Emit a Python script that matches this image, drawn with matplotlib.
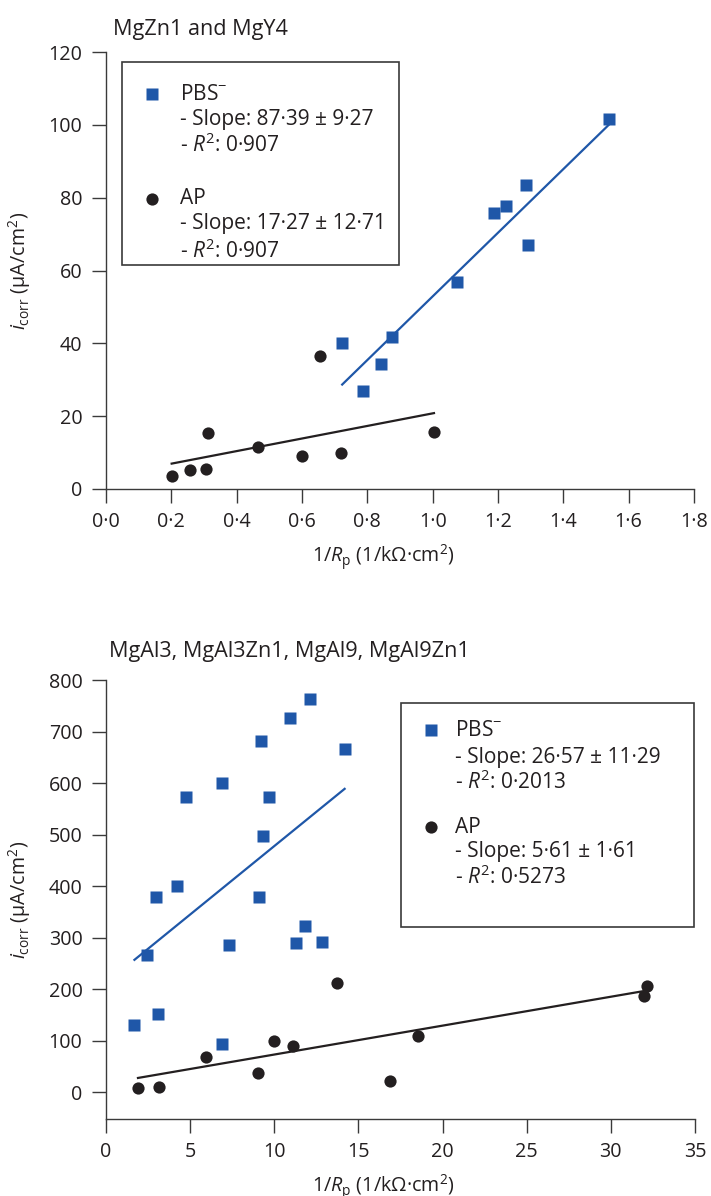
import numpy as np
import matplotlib
matplotlib.use("Agg")
import matplotlib.pyplot as plt
from matplotlib.patches import Rectangle

plt.rcParams['font.family'] = ['Open Sans', 'DejaVu Sans']
plt.rcParams['mathtext.fontset'] = 'custom'
plt.rcParams['mathtext.rm'] = 'Open Sans'
plt.rcParams['mathtext.it'] = 'Open Sans:italic'

BLUE = '#1f57a8'
DARK = '#231f20'

# --- top panel: MgZn1 and MgY4
top_pbs_x = [1.539, 1.286, 1.224, 1.188, 1.292, 1.074, 0.875, 0.723, 0.842, 0.787]
top_pbs_y = [101.6, 83.4, 77.7, 75.7, 66.9, 56.8, 41.8, 40.0, 34.2, 26.8]
top_ap_x = [0.656, 1.004, 0.313, 0.464, 0.718, 0.599, 0.307, 0.257, 0.201]
top_ap_y = [36.6, 15.6, 15.3, 11.4, 10.0, 9.0, 5.5, 5.3, 3.6]
top_pbs_fit = (87.39, -34.5)   # slope, intercept
top_ap_fit = (17.27, 3.5)
top_xticks = [0.0, 0.2, 0.4, 0.6, 0.8, 1.0, 1.2, 1.4, 1.6, 1.8]
top_yticks = [0, 20, 40, 60, 80, 100, 120]

# --- bottom panel: MgAl3, MgAl3Zn1, MgAl9, MgAl9Zn1
bot_pbs_x = [12.12, 10.96, 9.24, 14.18, 6.87, 4.78, 9.66, 9.35, 4.20, 2.99,
             9.07, 11.82, 7.29, 11.28, 12.81, 2.46, 3.11, 1.69, 6.87]
bot_pbs_y = [763, 727, 682, 667, 600, 572, 572, 498, 400, 378,
             378, 323, 286, 290, 292, 267, 151, 131, 94]
bot_ap_x = [32.13, 31.99, 13.70, 18.55, 9.98, 11.12, 5.94, 9.01, 16.88, 3.13, 1.90]
bot_ap_y = [206, 186, 212, 110, 99, 89, 68, 37, 22, 11, 8]
bot_pbs_fit = (26.57, 212.0)
bot_ap_fit = (5.61, 17.0)
bot_xticks = [0, 5, 10, 15, 20, 25, 30, 35]
bot_yticks = [0, 100, 200, 300, 400, 500, 600, 700, 800]

top_legend = [['PBS$^{-}$', '- Slope: 87·39 ± 9·27', '- $\\mathit{R}^2$: 0·907'],
              ['AP', '- Slope: 17·27 ± 12·71', '- $\\mathit{R}^2$: 0·907']]
bot_legend = [['PBS$^{-}$', '- Slope: 26·57 ± 11·29', '- $\\mathit{R}^2$: 0·2013'],
              ['AP', '- Slope: 5·61 ± 1·61', '- $\\mathit{R}^2$: 0·5273']]

W, H = 711, 1196
fig = plt.figure(figsize=(W / 100, H / 100), dpi=100)


def px_axes(l, t, r, b):
    return fig.add_axes([l / W, 1 - b / H, (r - l) / W, (b - t) / H])


def fmt(v, dec):
    return ('%.*f' % (dec, v)).replace('.', '·')


def style(ax, xt, yt, xdec, l, r):
    for s in ['top', 'right']:
        ax.spines[s].set_visible(False)
    for s in ['left', 'bottom']:
        ax.spines[s].set_color('#3a3a3a')
        ax.spines[s].set_linewidth(1.0)
    ax.set_xticks(xt)
    ax.set_xticklabels([fmt(v, xdec) for v in xt])
    ax.set_yticks(yt)
    ax.tick_params(direction='out', length=10, width=1.0, color='#3a3a3a',
                   labelsize=14.2, labelcolor=DARK)
    ax.tick_params(axis='x', pad=6.5)
    ax.tick_params(axis='y', pad=7)
    ax.set_xlabel('1/$\\mathit{R}_\\mathrm{p}$ (1/kΩ·cm$^2$)', fontsize=14.2, color=DARK)
    ax.xaxis.set_label_coords((383 - l) / (r - l), -0.122)
    ax.set_ylabel('$\\mathit{i}_\\mathrm{corr}$ (µA/cm$^2$)', fontsize=14.2, color=DARK, labelpad=11)


def draw(ax, px, py, apx, apy, pfit, afit):
    ax.plot(px, py, 's', color=BLUE, ms=8.6, mec='none', zorder=3, clip_on=False)
    ax.plot(apx, apy, 'o', color=DARK, ms=8.8, mec='none', zorder=3, clip_on=False)
    xs = np.array([min(px), max(px)])
    ax.plot(xs, pfit[0] * xs + pfit[1], color=BLUE, lw=1.6)
    xs = np.array([min(apx), max(apx)])
    ax.plot(xs, afit[0] * xs + afit[1], color=DARK, lw=1.6)


def legend_box(ax, box, mk_x, txt_x, rows_y, entries):
    # box and rows given in figure pixels, converted to axes fraction
    inv = ax.transAxes.inverted()

    def tr(x, y):
        return inv.transform(fig.transFigure.transform((x / W, 1 - y / H)))
    x0, y0 = tr(box[0], box[3])
    x1, y1 = tr(box[2], box[1])
    ax.add_patch(Rectangle((x0, y0), x1 - x0, y1 - y0, transform=ax.transAxes,
                           fill=False, ec='#3a3a3a', lw=1.2, clip_on=False, zorder=4))
    for k, (lines, ys) in enumerate(zip(entries, rows_y)):
        mx, my = tr(mk_x, ys[0])
        ax.plot([mx], [my], 's' if k == 0 else 'o', color=BLUE if k == 0 else DARK,
                ms=8.6 if k == 0 else 8.8, mec='none', transform=ax.transAxes, clip_on=False)
        for line, yy in zip(lines, ys):
            tx, ty = tr(txt_x, yy)
            ax.text(tx, ty, line, transform=ax.transAxes, fontsize=15, color=DARK,
                    va='center', ha='left')


ax1 = px_axes(106, 52, 694, 489)
draw(ax1, top_pbs_x, top_pbs_y, top_ap_x, top_ap_y, top_pbs_fit, top_ap_fit)
ax1.set_xlim(0, 1.8)
ax1.set_ylim(0, 120)
style(ax1, top_xticks, top_yticks, 1, 106, 694)
legend_box(ax1, (122, 62, 399, 265), 152, 180, [[94, 119, 145], [199, 224, 251]], top_legend)
fig.text(113 / W, 1 - 34.5 / H, 'MgZn1 and MgY4', fontsize=15.6, color=DARK, va='baseline')

ax2 = px_axes(106, 680, 695, 1119)
draw(ax2, bot_pbs_x, bot_pbs_y, bot_ap_x, bot_ap_y, bot_pbs_fit, bot_ap_fit)
ax2.set_xlim(0, 35)
ax2.set_ylim(-52, 800)
style(ax2, bot_xticks, bot_yticks, 0, 106, 695)
legend_box(ax2, (401, 703, 694, 927), 431, 455, [[730, 757, 782], [827, 852, 877]], bot_legend)
fig.text(109 / W, 1 - 657 / H, 'MgAl3, MgAl3Zn1, MgAl9, MgAl9Zn1', fontsize=15.6, color=DARK, va='baseline')

fig.savefig('out.png', dpi=100)
